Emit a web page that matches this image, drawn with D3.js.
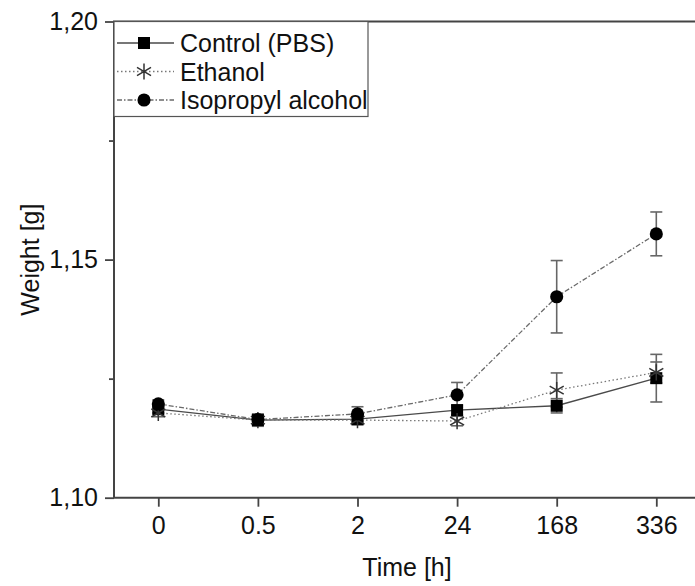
<!DOCTYPE html>
<html>
<head>
<meta charset="utf-8">
<script src="https://cdn.jsdelivr.net/npm/d3@7"></script>
<style>
  html, body { margin: 0; padding: 0; background: #fff; }
  svg { display: block; }
  text { font-family: "Liberation Sans", Arial, sans-serif; fill: #111; }
</style>
</head>
<body>
<svg id="chart" width="695" height="586"></svg>
<script>
// Sample incubation times (categorical axis)
const times = ["0", "0.5", "2", "24", "168", "336"];

// Mean weight [g] per time point
const controlMean   = [1.1186, 1.1163, 1.1165, 1.1184, 1.1193, 1.1251];
const ethanolMean   = [1.1178, 1.1163, 1.1163, 1.1161, 1.1226, 1.1263];
const isopropylMean = [1.1197, 1.1164, 1.1176, 1.1216, 1.1422, 1.1554];

// Standard deviations
const controlSd   = [0.0008, 0.0013, 0.0010, 0.0010, 0.0015, 0.0050];
const ethanolSd   = [0.0008, 0.0010, 0.0010, 0.0010, 0.0036, 0.0022];
const isopropylSd = [0.0008, 0.0010, 0.0015, 0.0026, 0.0076, 0.0046];

const seriesNames = ["Control (PBS)", "Ethanol", "Isopropyl alcohol"];
const yTicks = [1.10, 1.15, 1.20];
const yMinorTicks = [1.125, 1.175];

const series = [
  { name: seriesNames[0], mean: controlMean, sd: controlSd, marker: "square", dash: null, lineColor: "#4a4a4a", lineWidth: 1.4 },
  { name: seriesNames[1], mean: ethanolMean, sd: ethanolSd, marker: "star", dash: "1.5,2.5", lineColor: "#777", lineWidth: 1.3 },
  { name: seriesNames[2], mean: isopropylMean, sd: isopropylSd, marker: "circle", dash: "5,2,1.5,2", lineColor: "#6a6a6a", lineWidth: 1.3 }
];

const svg = d3.select("#chart");
const plotLeft = 114, plotTop = 21.5, plotBottom = 497.7, plotRight = 720;

// Point scale: first category at 158.3, last at 656.3
const x = d3.scalePoint().domain(times).range([158.3, 656.3]);
const y = d3.scaleLinear().domain([1.10, 1.20]).range([plotBottom, plotTop]);

const locale = d3.formatLocale({ decimal: ",", thousands: ".", grouping: [3], currency: ["", ""] });
const fmt = locale.format(".2f");

const axisColor = "#444";

// Y axis: major ticks with labels
const yAxis = svg.append("g")
  .attr("transform", `translate(${plotLeft},0)`)
  .call(d3.axisLeft(y).tickValues(yTicks).tickFormat(fmt).tickSize(9).tickPadding(7));
yAxis.select(".domain").remove();
yAxis.selectAll("line").attr("stroke", axisColor).attr("stroke-width", 1.8);
yAxis.selectAll("text").attr("font-size", 25).attr("font-family", "Liberation Sans, Arial, sans-serif").attr("fill", "#111");

// Y axis: minor ticks
const yMinor = svg.append("g")
  .attr("transform", `translate(${plotLeft},0)`)
  .call(d3.axisLeft(y).tickValues(yMinorTicks).tickFormat("").tickSize(5));
yMinor.select(".domain").remove();
yMinor.selectAll("line").attr("stroke", axisColor).attr("stroke-width", 1.8);

// X axis
const xAxis = svg.append("g")
  .attr("transform", `translate(0,${plotBottom})`)
  .call(d3.axisBottom(x).tickSize(9).tickPadding(10));
xAxis.select(".domain").remove();
xAxis.selectAll("line").attr("stroke", axisColor).attr("stroke-width", 1.8);
xAxis.selectAll("text").attr("font-size", 25).attr("font-family", "Liberation Sans, Arial, sans-serif").attr("fill", "#111");

// Frame lines: left, bottom, top
svg.append("line").attr("x1", plotLeft).attr("x2", plotLeft).attr("y1", plotTop).attr("y2", plotBottom)
  .attr("stroke", axisColor).attr("stroke-width", 2);
svg.append("line").attr("x1", plotLeft - 1).attr("x2", plotRight).attr("y1", plotBottom).attr("y2", plotBottom)
  .attr("stroke", axisColor).attr("stroke-width", 2);
svg.append("line").attr("x1", plotLeft - 1).attr("x2", plotRight).attr("y1", plotTop).attr("y2", plotTop)
  .attr("stroke", axisColor).attr("stroke-width", 2);

// Axis titles
svg.append("text")
  .attr("transform", `translate(39,${(plotTop + plotBottom) / 2}) rotate(-90)`)
  .attr("text-anchor", "middle")
  .attr("font-size", 25)
  .text("Weight [g]");
svg.append("text")
  .attr("x", 407).attr("y", 576)
  .attr("text-anchor", "middle")
  .attr("font-size", 25)
  .text("Time [h]");

const line = d3.line().x((d, i) => x(times[i])).y(d => y(d));

function drawMarker(g, type, cx, cy) {
  if (type === "square") {
    g.append("path").attr("d", d3.symbol(d3.symbolSquare, 144)())
      .attr("transform", `translate(${cx},${cy})`).attr("fill", "#000");
  } else if (type === "circle") {
    g.append("path").attr("d", d3.symbol(d3.symbolCircle, 135)())
      .attr("transform", `translate(${cx},${cy})`).attr("fill", "#000");
  } else {
    g.append("path").attr("d", d3.symbol(d3.symbolAsterisk, 185)())
      .attr("transform", `translate(${cx},${cy})`)
      .attr("fill", "none").attr("stroke", "#333").attr("stroke-width", 1.5);
  }
}

// Series: error bars, connecting lines, markers
series.forEach(s => {
  const g = svg.append("g");
  s.mean.forEach((m, i) => {
    const cx = x(times[i]);
    const y1 = y(m - s.sd[i]), y2 = y(m + s.sd[i]);
    g.append("line").attr("x1", cx).attr("x2", cx).attr("y1", y1).attr("y2", y2)
      .attr("stroke", "#666").attr("stroke-width", 1.6);
    [y1, y2].forEach(yy => g.append("line").attr("x1", cx - 6).attr("x2", cx + 6)
      .attr("y1", yy).attr("y2", yy).attr("stroke", "#666").attr("stroke-width", 1.6));
  });
  g.append("path").datum(s.mean).attr("d", line)
    .attr("fill", "none").attr("stroke", s.lineColor).attr("stroke-width", s.lineWidth)
    .attr("stroke-dasharray", s.dash);
});
series.forEach(s => {
  const g = svg.append("g");
  s.mean.forEach((m, i) => drawMarker(g, s.marker, x(times[i]), y(m)));
});

// Legend box
const lg = svg.append("g");
lg.append("rect").attr("x", plotLeft).attr("y", plotTop).attr("width", 254).attr("height", 95)
  .attr("fill", "#fff").attr("stroke", "#555").attr("stroke-width", 1.2);
const rowY = [43, 71.5, 100];
series.forEach((s, k) => {
  const cy = rowY[k];
  lg.append("line").attr("x1", 117).attr("x2", 174).attr("y1", cy).attr("y2", cy)
    .attr("stroke", s.lineColor).attr("stroke-width", s.lineWidth).attr("stroke-dasharray", s.dash);
  drawMarker(lg, s.marker, 144, cy);
  lg.append("text").attr("x", 180).attr("y", cy).attr("dy", "0.36em")
    .attr("font-size", 25).text(s.name);
});
</script>
</body>
</html>
